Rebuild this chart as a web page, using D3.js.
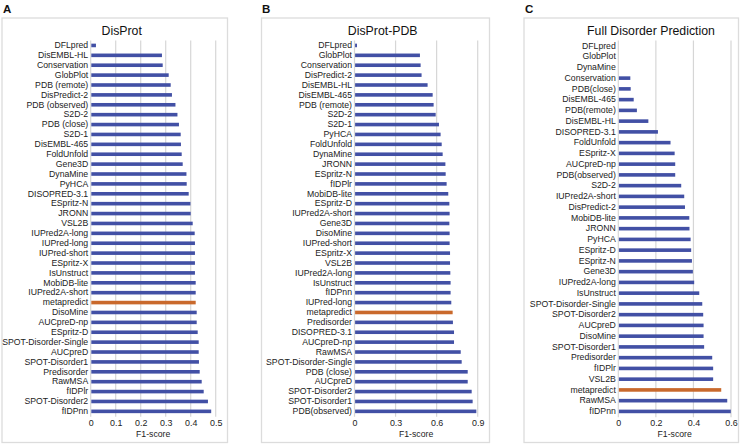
<!DOCTYPE html>
<html><head><meta charset="utf-8">
<script src="https://cdn.jsdelivr.net/npm/d3@7"></script>
<style>
body{margin:0;background:#fff;}
svg{display:block;font-family:"Liberation Sans",Arial,sans-serif;}
</style></head>
<body><svg id="c" width="742" height="445"></svg>
<script>
// ---- Panel A: DisProt ----
const catsA = ["DFLpred","DisEMBL-HL","Conservation","GlobPlot","PDB (remote)","DisPredict-2","PDB (observed)","S2D-2","PDB (close)","S2D-1","DisEMBL-465","FoldUnfold","Gene3D","DynaMine","PyHCA","DISOPRED-3.1","ESpritz-N","JRONN","VSL2B","IUPred2A-long","IUPred-long","IUPred-short","ESpritz-X","IsUnstruct","MobiDB-lite","IUPred2A-short","metapredict","DisoMine","AUCpreD-np","ESpritz-D","SPOT-Disorder-Single","AUCpreD","SPOT-Disorder1","Predisorder","RawMSA","fIDPlr","SPOT-Disorder2","fIDPnn"];
const valsA = [0.021,0.285,0.288,0.312,0.32,0.325,0.339,0.347,0.353,0.36,0.361,0.364,0.368,0.383,0.384,0.392,0.399,0.40,0.408,0.416,0.417,0.417,0.417,0.417,0.42,0.42,0.42,0.424,0.424,0.428,0.432,0.432,0.433,0.436,0.444,0.452,0.469,0.482];
const ticksA = [0,0.1,0.2,0.3,0.4,0.5];

// ---- Panel B: DisProt-PDB ----
const catsB = ["DFLpred","GlobPlot","Conservation","DisPredict-2","DisEMBL-HL","DisEMBL-465","PDB (remote)","S2D-2","S2D-1","PyHCA","FoldUnfold","DynaMine","JRONN","ESpritz-N","fIDPlr","MobiDB-lite","ESpritz-D","IUPred2A-short","Gene3D","DisoMine","IUPred-short","ESpritz-X","VSL2B","IUPred2A-long","IsUnstruct","fIDPnn","IUPred-long","metapredict","Predisorder","DISOPRED-3.1","AUCpreD-np","RawMSA","SPOT-Disorder-Single","PDB (close)","AUCpreD","SPOT-Disorder2","SPOT-Disorder1","PDB(observed)"];
const valsB = [0.018,0.478,0.483,0.49,0.534,0.571,0.578,0.593,0.617,0.629,0.637,0.644,0.664,0.666,0.673,0.685,0.693,0.695,0.693,0.695,0.695,0.698,0.698,0.70,0.702,0.702,0.707,0.717,0.719,0.727,0.727,0.776,0.783,0.827,0.827,0.856,0.863,0.89];
const ticksB = [0,0.3,0.6,0.9];

// ---- Panel C: Full Disorder Prediction ----
const catsC = ["DFLpred","GlobPlot","DynaMine","Conservation","PDB(close)","DisEMBL-465","PDB(remote)","DisEMBL-HL","DISOPRED-3.1","FoldUnfold","ESpritz-X","AUCpreD-np","PDB(observed)","S2D-2","IUPred2A-short","DisPredict-2","MobiDB-lite","JRONN","PyHCA","ESpritz-D","ESpritz-N","Gene3D","IUPred2A-long","IsUnstruct","SPOT-Disorder-Single","SPOT-Disorder2","AUCpreD","DisoMine","SPOT-Disorder1","Predisorder","fIDPlr","VSL2B","metapredict","RawMSA","fIDPnn"];
const valsC = [0,0,0,0.064,0.066,0.082,0.099,0.16,0.211,0.278,0.30,0.303,0.303,0.335,0.351,0.355,0.378,0.379,0.385,0.388,0.392,0.397,0.404,0.431,0.447,0.452,0.454,0.454,0.457,0.50,0.505,0.505,0.548,0.58,0.599];
const ticksC = [0,0.2,0.4,0.6];

const titles = ["DisProt","DisProt-PDB","Full Disorder Prediction"];
const letters = ["A","B","C"];
const highlight = "metapredict";

const svg = d3.select("#c");
const BLUE = "#4250a5", ORANGE = "#c9692c", GRID = "#d6d6d6", FRAME = "#dcdcdc";

const panels = [
  {cats:catsA, vals:valsA, ticks:ticksA, box:[2,227.5], x:[90.7,215.7], y:[40.5,416.3], titleX:121.7, letterX:3},
  {cats:catsB, vals:valsB, ticks:ticksB, box:[261.5,489.5], x:[354.5,477.7], y:[40.5,416.3], titleX:382.7, letterX:262},
  {cats:catsC, vals:valsC, ticks:ticksC, box:[524,738.5], x:[618.3,731], y:[40.5,416.8], titleX:651, letterX:525}
];

panels.forEach((p,i)=>{
  const g = svg.append("g");
  // frame
  g.append("rect").attr("x",p.box[0]).attr("y",18).attr("width",p.box[1]-p.box[0]).attr("height",424.5)
    .attr("fill","#fff").attr("stroke",FRAME).attr("stroke-width",1.3);
  // letter
  g.append("text").attr("x",p.letterX).attr("y",12.5).text(letters[i])
    .attr("font-weight","bold").attr("font-size",11.5).attr("fill","#111");
  // title
  g.append("text").attr("x",p.titleX).attr("y",34.5).attr("text-anchor","middle")
    .attr("font-size",12.3).attr("fill","#111").text(titles[i]);

  const x = d3.scaleLinear().domain([0,p.ticks[p.ticks.length-1]]).range(p.x);
  const y = d3.scaleBand().domain(p.cats).range(p.y).padding(0);

  // gridlines
  g.selectAll("line.grid").data(p.ticks).join("line").attr("class","grid")
    .attr("x1",d=>x(d)).attr("x2",d=>x(d)).attr("y1",p.y[0]).attr("y2",p.y[1]+0.5)
    .attr("stroke",GRID).attr("stroke-width",1.2);

  // bars
  const bh = 3.6;
  g.selectAll("rect.bar").data(p.cats.map((c,k)=>({c,v:p.vals[k]}))).join("rect").attr("class","bar")
    .attr("x",x(0)+0.6).attr("y",d=>y(d.c)+y.bandwidth()/2-bh/2)
    .attr("width",d=>Math.max(0,x(d.v)-x(0)-0.6)).attr("height",bh)
    .attr("fill",d=>d.c===highlight?ORANGE:BLUE);

  // left axis (category labels)
  const ya = g.append("g").attr("transform",`translate(${x(0)-0.5},0)`)
    .call(d3.axisLeft(y).tickSize(0).tickPadding(2));
  ya.select(".domain").remove();
  ya.selectAll("text").attr("font-size",8.7).attr("fill","#222").attr("font-family","Liberation Sans, Arial, sans-serif");

  // bottom axis
  const xa = g.append("g").attr("transform",`translate(0,${p.y[1]+0.5})`)
    .call(d3.axisBottom(x).tickValues(p.ticks).tickSize(0).tickPadding(2.5).tickFormat(d3.format("")));
  xa.select(".domain").remove();
  xa.selectAll("text").attr("font-size",8.9).attr("fill","#222").attr("font-family","Liberation Sans, Arial, sans-serif");

  // axis title
  g.append("text").attr("x",(p.x[0]+p.x[1])/2).attr("y",437.3).attr("text-anchor","middle")
    .attr("font-size",8.7).attr("fill","#222").text("F1-score");
});
</script></body></html>
